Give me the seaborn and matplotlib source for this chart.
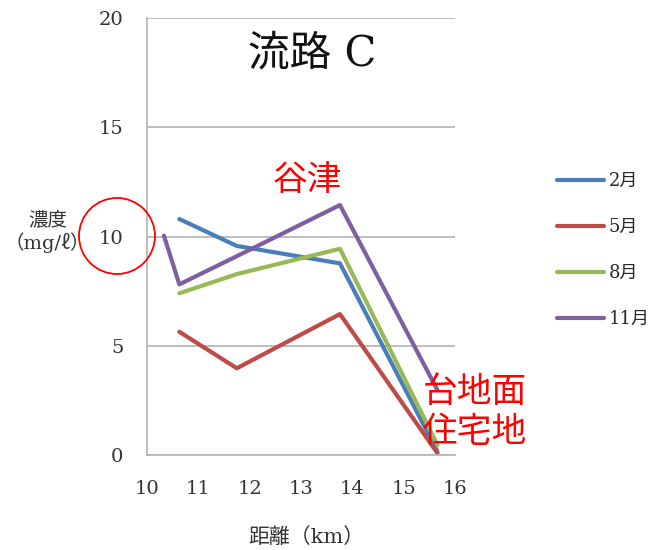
import pandas as pd
import matplotlib.pyplot as plt
import seaborn as sns
from matplotlib.patches import Ellipse

# distances (km) and concentrations (mg/l)
dist = [10.63, 11.75, 13.76, 15.66]
dist_nov = [10.33, 10.63, 11.75, 13.76, 15.66]
feb = [10.8, 9.57, 8.77, 0.15]
may = [5.64, 3.97, 6.45, 0.08]
aug = [7.4, 8.28, 9.44, 0.46]
nov = [10.04, 7.81, 9.1, 11.44, 2.97]
months = ["2月", "5月", "8月", "11月"]
colors = ["#4A7EBB", "#BE4B48", "#98B954", "#7D60A0"]

rows = []
for m, xs, ys in zip(months, [dist, dist, dist, dist_nov], [feb, may, aug, nov]):
    for x, y in zip(xs, ys):
        rows.append({"距離": x, "濃度": y, "月": m})
data = pd.DataFrame(rows)

sns.set_style("white")
plt.rcParams['font.family'] = ['DejaVu Serif', 'Noto Sans CJK JP']

fig = plt.figure(figsize=(6.58, 5.50), dpi=100)
ax = fig.add_axes([0.2234, 0.1727, 0.468, 0.7945])

sns.lineplot(data=data, x="距離", y="濃度", hue="月", palette=colors,
             sort=False, estimator=None, linewidth=3, ax=ax, legend=True)

ax.set_xlim(10, 16)
ax.set_ylim(0, 20)
ax.set_xticks(range(10, 17))
ax.set_yticks([0, 5, 10, 15, 20])
ax.yaxis.grid(True, color="#b3b3b3", linewidth=1.2)
ax.set_axisbelow(True)
for s in ["top", "right"]:
    ax.spines[s].set_visible(False)
for s in ["left", "bottom"]:
    ax.spines[s].set_color("#b3b3b3")
    ax.spines[s].set_linewidth(1.2)
ax.tick_params(axis="both", direction="out", length=6, color="#b3b3b3",
               labelsize=14, colors="#b3b3b3", labelcolor="#333333")
ax.tick_params(axis="x", pad=12)
ax.tick_params(axis="y", pad=11)
ax.set_xlabel("")
ax.set_ylabel("")

fig.text(0.465, 0.024, "距離（km）", ha="center", va="center", fontsize=15, color="#333333")
fig.text(0.072, 0.578, "濃度\n（mg/ℓ）", ha="center", va="center", fontsize=14,
         color="#333333", linespacing=1.2)

ax.text(0.535, 0.92, "流路 C", transform=ax.transAxes, ha="center", va="center",
        fontsize=30, color="#111111")
ax.text(0.52, 0.628, "谷津", transform=ax.transAxes, ha="center", va="center",
        fontsize=25, color="red", family=['Noto Sans CJK JP'])
fig.text(0.642, 0.25, "台地面\n住宅地", ha="left", va="center", fontsize=25,
         color="red", family=['Noto Sans CJK JP'], linespacing=1.2)

fig.add_artist(Ellipse((117 / 658, 1 - 236 / 550), 76 / 658, 76 / 550,
                       transform=fig.transFigure, fill=False, edgecolor="red", linewidth=1.3))

ax.legend(title=None, loc="center left", bbox_to_anchor=(0.822, 0.545),
          bbox_transform=fig.transFigure, frameon=False, fontsize=13,
          handlelength=2.6, labelspacing=1.55, handletextpad=0.25)

fig.savefig("out.png", dpi=100)
